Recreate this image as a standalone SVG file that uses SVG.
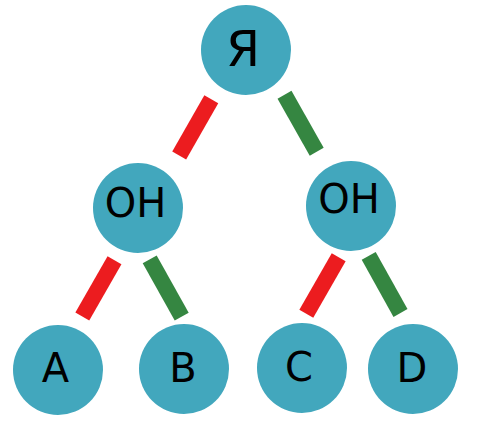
<svg xmlns="http://www.w3.org/2000/svg" width="481" height="431" viewBox="0 0 481 431">
<style>
.n{fill:#42a7bd}
.t{font-family:"DejaVu Sans",sans-serif;font-size:40px;fill:#000;text-anchor:middle}
.r{stroke:#ec1c1f;stroke-width:16;stroke-linecap:butt}
.g{stroke:#358641;stroke-width:16;stroke-linecap:butt}
</style>
<rect width="481" height="431" fill="#fff"/>
<g id="connectors">
<line class="r" x1="211.3" y1="99.2" x2="179.2" y2="155.5"/>
<line class="g" x1="284.5" y1="94.7" x2="316.7" y2="151.7"/>
<line class="r" x1="114.5" y1="260.2" x2="82.3" y2="316.5"/>
<line class="g" x1="149.7" y1="259.3" x2="181.7" y2="316.7"/>
<line class="r" x1="338.7" y1="257.2" x2="306.3" y2="313.8"/>
<line class="g" x1="368.7" y1="255.8" x2="400.5" y2="313"/>
</g>
<g id="root"><circle class="n" cx="246" cy="50" r="45"/><text class="t" x="243" y="66" style="font-size:49px">Я</text></g>
<g id="oh-left"><circle class="n" cx="138" cy="208" r="45"/><text class="t" x="135.5" y="217">OH</text></g>
<g id="oh-right"><circle class="n" cx="351" cy="206" r="45"/><text class="t" x="349" y="213">OH</text></g>
<g id="a"><circle class="n" cx="58" cy="370" r="45"/><text class="t" x="55.5" y="382">A</text></g>
<g id="b"><circle class="n" cx="184" cy="369" r="45"/><text class="t" x="183" y="381.5">B</text></g>
<g id="c"><circle class="n" cx="302" cy="368" r="45"/><text class="t" x="299" y="380.5">C</text></g>
<g id="d"><circle class="n" cx="413" cy="369" r="45"/><text class="t" x="412" y="382">D</text></g>
</svg>
